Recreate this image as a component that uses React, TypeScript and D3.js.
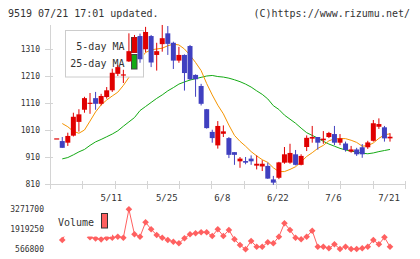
import React from 'react';
import * as d3 from 'd3';

// ---- data ----
const xLabels = ['5/11', '5/25', '6/8', '6/22', '7/6', '7/21'];
const xLabelIdx = [10, 20, 30, 40, 50, 60];
const priceTicks = [810, 910, 1010, 1110, 1210, 1310];
const volTicks = [566800, 1919250, 3271700];

const opens = [979, 969, 963, 989, 1040, 1085, 1108, 1128, 1107, 1132, 1157, 1218, 1212, 1264, 1296, 1358, 1309, 1358, 1288, 1328, 1368, 1333, 1267, 1288, 1321, 1214, 1173, 1087, 1003, 953, 996, 980, 928, 894, 895, 904, 878, 875, 877, 827, 833, 889, 889, 920, 881, 947, 978, 984, 972, 984, 995, 963, 960, 930, 938, 946, 946, 970, 1022, 1020, 979];
const highs = [979, 984, 1000, 1074, 1087, 1133, 1147, 1151, 1144, 1169, 1237, 1250, 1233, 1368, 1362, 1367, 1392, 1362, 1333, 1399, 1395, 1337, 1318, 1290, 1325, 1216, 1181, 1088, 1011, 1043, 1027, 984, 928, 910, 910, 916, 916, 898, 889, 840, 892, 947, 959, 936, 920, 990, 1025, 984, 1006, 1003, 1025, 995, 967, 951, 944, 958, 970, 1047, 1053, 1025, 998];
const lows = [979, 944, 951, 986, 1004, 1074, 1070, 1085, 1101, 1126, 1151, 1210, 1184, 1262, 1296, 1259, 1298, 1243, 1230, 1300, 1288, 1236, 1259, 1156, 1195, 1133, 1101, 1015, 963, 941, 984, 906, 881, 870, 883, 881, 864, 858, 829, 807, 828, 885, 885, 879, 879, 932, 963, 937, 959, 980, 954, 954, 930, 926, 914, 907, 940, 967, 1014, 967, 967];
const closes = [979, 944, 988, 1059, 1068, 1128, 1111, 1107, 1136, 1157, 1222, 1243, 1216, 1302, 1353, 1272, 1373, 1260, 1302, 1350, 1329, 1267, 1288, 1221, 1198, 1198, 1107, 1017, 980, 1025, 1005, 918, 918, 904, 889, 894, 885, 885, 830, 815, 890, 920, 925, 881, 914, 981, 984, 963, 978, 999, 963, 979, 936, 938, 920, 920, 964, 1035, 1032, 979, 985];

const ma5 = [null, 1034, 1022, 1005, 998, 1010, 1043, 1077, 1103, 1121, 1136, 1150, 1175, 1205, 1240, 1272, 1297, 1307, 1310, 1313, 1322, 1328, 1325, 1310, 1287, 1260, 1230, 1182, 1140, 1102, 1070, 1028, 990, 968, 950, 930, 914, 900, 890, 870, 856, 856, 864, 874, 892, 912, 926, 942, 953, 970, 977, 978, 978, 972, 964, 950, 952, 962, 979, 992, 996];
const ma25 = [null, 903, 908, 918, 929, 938, 953, 966, 975, 985, 995, 1007, 1024, 1040, 1056, 1082, 1097, 1112, 1127, 1140, 1155, 1167, 1180, 1188, 1195, 1200, 1205, 1210, 1212, 1208, 1206, 1202, 1196, 1189, 1180, 1169, 1155, 1142, 1125, 1100, 1086, 1065, 1050, 1035, 1017, 1000, 990, 980, 968, 958, 950, 942, 936, 932, 928, 924, 922, 925, 930, 934, 938];

const volumes = [null, 1195700, 1900000, 2200000, 1800000, 1700000, 1380000, 1300000, 1240000, 1330000, 1350000, 1418800, 1351200, 3271700, 1581100, 1418800, 2392600, 1919250, 1533800, 1351200, 1195700, 1080700, 972500, 1310600, 1581100, 1648800, 1716400, 1716400, 1466200, 1919250, 1466200, 1871900, 1243000, 857600, 566800, 1128100, 742600, 742600, 1040200, 972500, 1418800, 2325000, 1871900, 1351200, 1243000, 1418800, 1824600, 742600, 742600, 634400, 904900, 587100, 742600, 590000, 590000, 634400, 742600, 1195700, 904900, 1378300, 742600];

const RED = '#e00000';
const BLUE = '#4040c0';
const ORANGE = '#f59400';
const GREEN = '#14aa14';
const VOLC = '#ff6060';
const GRID = '#d4d4d4';
const TEXT = '#333333';
const FONT = '"DejaVu Sans Mono", monospace';

export default function App() {
  const W = 420, H = 259;
  const n = closes.length;
  const x = d3.scaleLinear().domain([0, n - 1]).range([56.7, 390]);
  const y = d3.scaleLinear().domain([810, 1310]).range([184, 49]);
  const yv = d3.scaleLinear().domain([volTicks[0], volTicks[2]]).range([249.3, 209.3]);
  const axisX0 = 50, axisX1 = 405;
  const xTickScale = d3.scaleLinear().domain([0, 11]).range([axisX0, axisX1]);
  const xTicks = d3.range(12).map((k) => xTickScale(k));

  const idx = d3.range(n);
  const lineMA = (arr: (number | null)[]) =>
    d3.line<number>()
      .defined((i) => arr[i] != null)
      .x((i) => x(i))
      .y((i) => y(arr[i] as number))(idx) || '';
  const volLine = d3.line<number>()
    .defined((i) => volumes[i] != null)
    .x((i) => x(i))
    .y((i) => yv(volumes[i] as number))(idx) || '';

  const bw = 5;

  return (
    <svg width={W} height={H} style={{ position: 'absolute', left: 0, top: 0, background: '#fff' }} fontFamily={FONT}>
      <rect x={0} y={0} width={W} height={H} fill="#fff" />
      {/* header */}
      <text x={8} y={16.5} fontSize={10} fill={TEXT}>9519 07/21 17:01 updated.</text>
      <text x={410} y={16.5} fontSize={10} fill={TEXT} textAnchor="end">(C)https://www.rizumu.net/</text>

      {/* axes */}
      <line x1={axisX0 + 0.5} x2={axisX0 + 0.5} y1={25} y2={189} stroke={GRID} />
      <line x1={axisX0} x2={axisX1 + 0.5} y1={184.5} y2={184.5} stroke={GRID} />
      {xTicks.map((tx, k) => (
        <line key={'xt' + k} x1={Math.round(tx) + 0.5} x2={Math.round(tx) + 0.5} y1={181} y2={189} stroke={GRID} />
      ))}
      {priceTicks.map((p) => (
        <g key={'pt' + p}>
          <line x1={45} x2={53} y1={Math.round(y(p)) + 0.5} y2={Math.round(y(p)) + 0.5} stroke={GRID} />
          <text x={40} y={y(p) + 3} fontSize={8} fill={TEXT} textAnchor="end">{p}</text>
        </g>
      ))}
      {xLabelIdx.map((i, k) => (
        <text key={'xl' + k} x={x(i) - 1} y={201} fontSize={9} fill={TEXT} textAnchor="middle">{xLabels[k]}</text>
      ))}

      {/* moving averages */}
      <path d={lineMA(ma25)} fill="none" stroke={GREEN} strokeWidth={1} />
      <path d={lineMA(ma5)} fill="none" stroke={ORANGE} strokeWidth={1} />

      {/* legend */}
      <rect x={65.5} y={30.5} width={78} height={46.5} fill="#fff" stroke="#cccccc" />
      <text x={124.5} y={50} fontSize={10} fill={TEXT} textAnchor="end">5-day MA</text>
      <text x={124.5} y={67} fontSize={10} fill={TEXT} textAnchor="end">25-day MA</text>
      <rect x={131.5} y={37.5} width={5.5} height={15} fill={ORANGE} stroke="#444" />
      <rect x={131.5} y={54.5} width={5.5} height={14.5} fill={GREEN} stroke="#444" />

      {/* candles */}
      {idx.map((i) => {
        const up = closes[i] >= opens[i];
        const c = up ? RED : BLUE;
        const cx = x(i);
        const top = y(Math.max(opens[i], closes[i]));
        const bot = y(Math.min(opens[i], closes[i]));
        return (
          <g key={'c' + i}>
            <line x1={cx} x2={cx} y1={y(highs[i])} y2={y(lows[i])} stroke={c} strokeWidth={1} />
            <rect x={cx - bw / 2} y={top} width={bw} height={Math.max(1.2, bot - top)} fill={c} />
          </g>
        );
      })}

      {/* volume */}
      {volTicks.map((v) => (
        <text key={'vt' + v} x={44} y={yv(v) + 3} fontSize={8} fill={TEXT} textAnchor="end">{v}</text>
      ))}
      <path d={volLine} fill="none" stroke={VOLC} strokeWidth={1} />
      {idx.filter((i) => volumes[i] != null).map((i) => {
        const cx = x(i), cy = yv(volumes[i] as number);
        return <path key={'v' + i} d={`M${cx},${cy - 3.3}L${cx + 3.3},${cy}L${cx},${cy + 3.3}L${cx - 3.3},${cy}Z`} fill={VOLC} />;
      })}
      <rect x={52} y={205} width={60} height={31.5} fill="#fff" />
      <text x={58} y={226} fontSize={10} fill={TEXT}>Volume</text>
      <rect x={101.5} y={213.5} width={6} height={14.5} fill={VOLC} stroke="#333" />
    </svg>
  );
}
